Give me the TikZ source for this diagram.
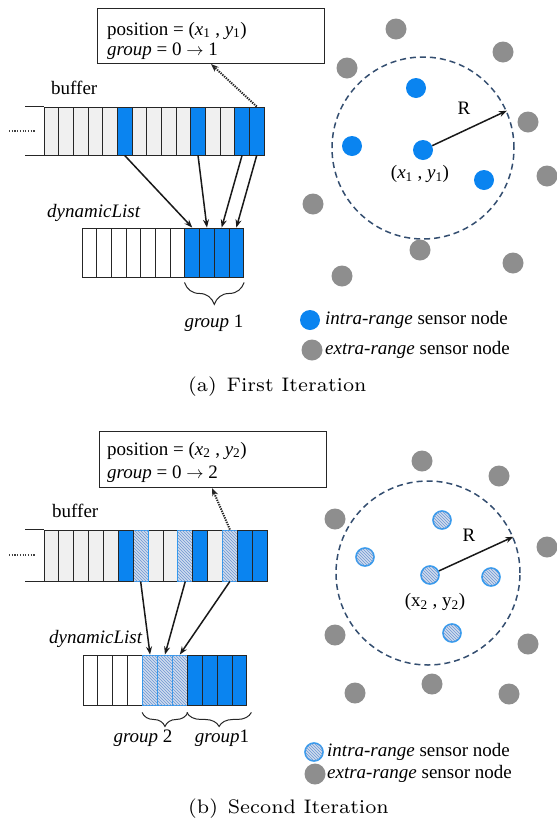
\documentclass[tikz,border=0pt]{standalone}
\usepackage{fontspec}
\setmainfont{Liberation Serif}
\usetikzlibrary{arrows.meta,patterns,decorations.pathreplacing}
\definecolor{bluec}{RGB}{10,132,240}
\definecolor{cellgray}{RGB}{240,240,240}
\definecolor{hatchfill}{RGB}{208,220,238}
\definecolor{hatchline}{RGB}{110,150,210}
\definecolor{hatchborder}{RGB}{50,155,240}
\definecolor{dotgray}{RGB}{142,142,142}
\definecolor{dashblue}{RGB}{52,78,112}
\begin{document}
\begin{tikzpicture}[x=1pt,y=-1pt,
  every node/.style={font=\fontsize{19}{21}\selectfont, inner sep=0pt},
  cellbase/.style={rectangle, draw=black!85, line width=0.9pt},
  gcell/.style={cellbase, fill=cellgray},
  wcell/.style={cellbase, fill=white},
  bcell/.style={cellbase, fill=bluec},
  hcell/.style={cellbase, draw=hatchborder, fill=hatchfill, postaction={pattern=north west lines, pattern color=hatchline}},
  topbuf/.style={minimum width=14.67pt, minimum height=48pt},
  topdyn/.style={minimum width=14.7pt, minimum height=49pt},
  botbuf/.style={minimum width=14.87pt, minimum height=51pt},
  botdyn/.style={minimum width=14.9pt, minimum height=50pt},
  arr/.style={-{Stealth[length=8pt,width=6pt]}, line width=1.5pt, black!90},
  dotarr/.style={-{Stealth[length=8pt,width=6pt]}, line width=2pt, dash pattern=on 1.3pt off 1.1pt, black!85},
  bufline/.style={line width=0.9pt, black!85},
  dots/.style={line width=1.2pt, dash pattern=on 1.2pt off 1.5pt, black!75},
  infobox/.style={draw=black!85, line width=1pt, minimum width=227pt, anchor=north west},
  gbrace/.style={line width=1pt, black!85, decorate, decoration={brace, mirror, amplitude=#1}},
  rangec/.style={circle, draw=dashblue, line width=1.5pt, dash pattern=on 6pt off 4pt},
  bdot/.style={circle, fill=bluec, minimum size=20pt},
  gdot/.style={circle, fill=dotgray, minimum size=21pt},
  hdot/.style={circle, draw=hatchborder, line width=1.6pt, fill=hatchfill, postaction={pattern=north west lines, pattern color=hatchline}, minimum size=18pt},
  capfont/.style={anchor=west}
]
\useasboundingbox (0,0) rectangle (557,828);

% ================= (a) First Iteration =================
\node[infobox, minimum height=55pt] (pos1) at (97,8) {};
\node[anchor=base west] (pos1a) at (107,35) {position = (\textit{x}\textsubscript{1} , \textit{y}\textsubscript{1})};
\node[anchor=base west] (pos1b) at (107,55) {\textit{group} = 0 $\rightarrow$ 1};

\node[anchor=base west] (buf1) at (51,94) {buffer};
\foreach \i in {0,1,2,3,4,6,7,8,9,11,12}
  \node[gcell, topbuf] (ba\i) at ({51.33+14.67*\i},131) {};
\foreach \i in {5,10,13,14}
  \node[bcell, topbuf] (ba\i) at ({51.33+14.67*\i},131) {};
\draw[bufline] (ba0.north west) -- ++(-19,0);
\draw[bufline] (ba0.south west) -- ++(-19,0);
\draw[dots] (9,131) -- (35,131);

\node[anchor=base west] (dyn1) at (47,217) {\textit{dynamicList}};
\foreach \i in {0,...,6}
  \node[wcell, topdyn] (da\i) at ({89.35+14.7*\i},252.5) {};
\foreach \i in {7,...,10}
  \node[bcell, topdyn] (da\i) at ({89.35+14.7*\i},252.5) {};

\draw[arr] (ba5.south) -- (da7.north);
\draw[arr] (ba10.south) -- (da8.north);
\draw[arr] (ba13.south) -- (da9.north);
\draw[arr] (ba14.south) -- (da10.north);

\coordinate (tip1) at (211,64);
\draw[dotarr] (ba14.north) -- (tip1);

\draw[gbrace=22pt] ([yshift=-5pt]da7.south west) -- ([yshift=-5pt]da10.south east);
\node[anchor=base] (grp1) at (214,327) {\textit{group} 1};

\node[rangec, minimum size=182pt] (r1) at (423,148) {};
\node[gdot] (ga1) at (396,29) {};
\node[gdot] (ga2) at (503,52) {};
\node[gdot] (ga3) at (347,68) {};
\node[gdot] (ga4) at (528,122) {};
\node[gdot] (ga5) at (547,176) {};
\node[gdot] (ga6) at (313,204) {};
\node[gdot] (ga7) at (420,250) {};
\node[gdot] (ga8) at (513,263) {};
\node[gdot] (ga9) at (342,276) {};
\node[bdot] (na1) at (416,88) {};
\node[bdot] (na2) at (352,146) {};
\node[bdot] (c1) at (423,150) {};
\node[bdot] (na3) at (484,180) {};
\draw[arr] (c1) -- (r1.24);
\node (R1) at (464,108) {R};
\node (xy1) at (420,174) {(\textit{x}\textsubscript{1} , \textit{y}\textsubscript{1})};

\node[bdot] (lb1) at (310,320) {};
\node[anchor=west] (lt1) at (325,320) {\textit{intra-range} sensor node};
\node[gdot] (lg1) at (312,350) {};
\node[anchor=west] (lt2) at (325,350) {\textit{extra-range} sensor node};

\node[capfont] (capa) at (188,387) {\scalebox{2.8}{\fontfamily{lmr}\fontsize{7}{8}\selectfont (a)\enspace First Iteration}};

% ================= (b) Second Iteration =================
\node[infobox, minimum height=56pt] (pos2) at (99,431) {};
\node[anchor=base west] (pos2a) at (107,455) {position = (\textit{x}\textsubscript{2} , \textit{y}\textsubscript{2})};
\node[anchor=base west] (pos2b) at (107,478) {\textit{group} = 0 $\rightarrow$ 2};

\node[anchor=base west] (buf2) at (52,517) {buffer};
\foreach \i in {0,1,2,3,4,7,8,11}
  \node[gcell, botbuf] (bb\i) at ({51.43+14.87*\i},555.5) {};
\foreach \i in {6,9,12}
  \node[hcell, botbuf] (bb\i) at ({51.43+14.87*\i},555.5) {};
\foreach \i in {5,10,13,14}
  \node[bcell, botbuf] (bb\i) at ({51.43+14.87*\i},555.5) {};
\draw[bufline] (bb0.north west) -- ++(-19,0);
\draw[bufline] (bb0.south west) -- ++(-19,0);
\draw[dots] (9,555) -- (35,555);

\node[anchor=base west] (dyn2) at (49,643) {\textit{dynamicList}};
\foreach \i in {0,...,3}
  \node[wcell, botdyn] (db\i) at ({90.45+14.9*\i},680) {};
\foreach \i in {4,5,6}
  \node[hcell, botdyn] (db\i) at ({90.45+14.9*\i},680) {};
\foreach \i in {7,...,10}
  \node[bcell, botdyn] (db\i) at ({90.45+14.9*\i},680) {};

\draw[arr] (bb6.south) -- (db4.north);
\draw[arr] (bb9.south) -- (db5.north);
\draw[arr] (bb12.south) -- (db6.north);

\coordinate (tip2) at (212,488);
\draw[dotarr] (bb12.north) -- (tip2);

\draw[gbrace=14pt] ([yshift=-7pt]db4.south west) -- ([yshift=-7pt]db6.south east);
\draw[gbrace=14pt] ([yshift=-7pt]db7.south west) -- ([yshift=-7pt,xshift=4pt]db10.south east);
\node[anchor=base] (grp2) at (143,742) {\textit{group} 2};
\node[anchor=base] (grp3) at (222,742) {\textit{group}1};

\node[rangec, minimum size=184pt] (r2) at (428,573) {};
\node[gdot] (gb1) at (422,461) {};
\node[gdot] (gb2) at (499,476) {};
\node[gdot] (gb3) at (335,519) {};
\node[gdot] (gb4) at (547,547) {};
\node[gdot] (gb5) at (335,635) {};
\node[gdot] (gb6) at (528,644) {};
\node[gdot] (gb7) at (432,684) {};
\node[gdot] (gb8) at (355,693) {};
\node[gdot] (gb9) at (509,694) {};
\node[hdot] (nb1) at (442,520) {};
\node[hdot] (nb2) at (365,557) {};
\node[hdot] (c2) at (430,575) {};
\node[hdot] (nb3) at (491,577) {};
\node[hdot] (nb4) at (452,633) {};
\draw[arr] (c2) -- (r2.23);
\node (R2) at (469,535) {R};
\node (xy2) at (435,602) {(x\textsubscript{2} , y\textsubscript{2})};

\node[hdot] (lh1) at (314,752) {};
\node[anchor=west] (lt3) at (327,752) {\textit{intra-range} sensor node};
\node[gdot] (lg2) at (315,774) {};
\node[anchor=west] (lt4) at (327,774) {\textit{extra-range} sensor node};

\node[capfont] (capb) at (188,809) {\scalebox{2.8}{\fontfamily{lmr}\fontsize{7}{8}\selectfont (b)\enspace Second Iteration}};
\end{tikzpicture}
\end{document}
